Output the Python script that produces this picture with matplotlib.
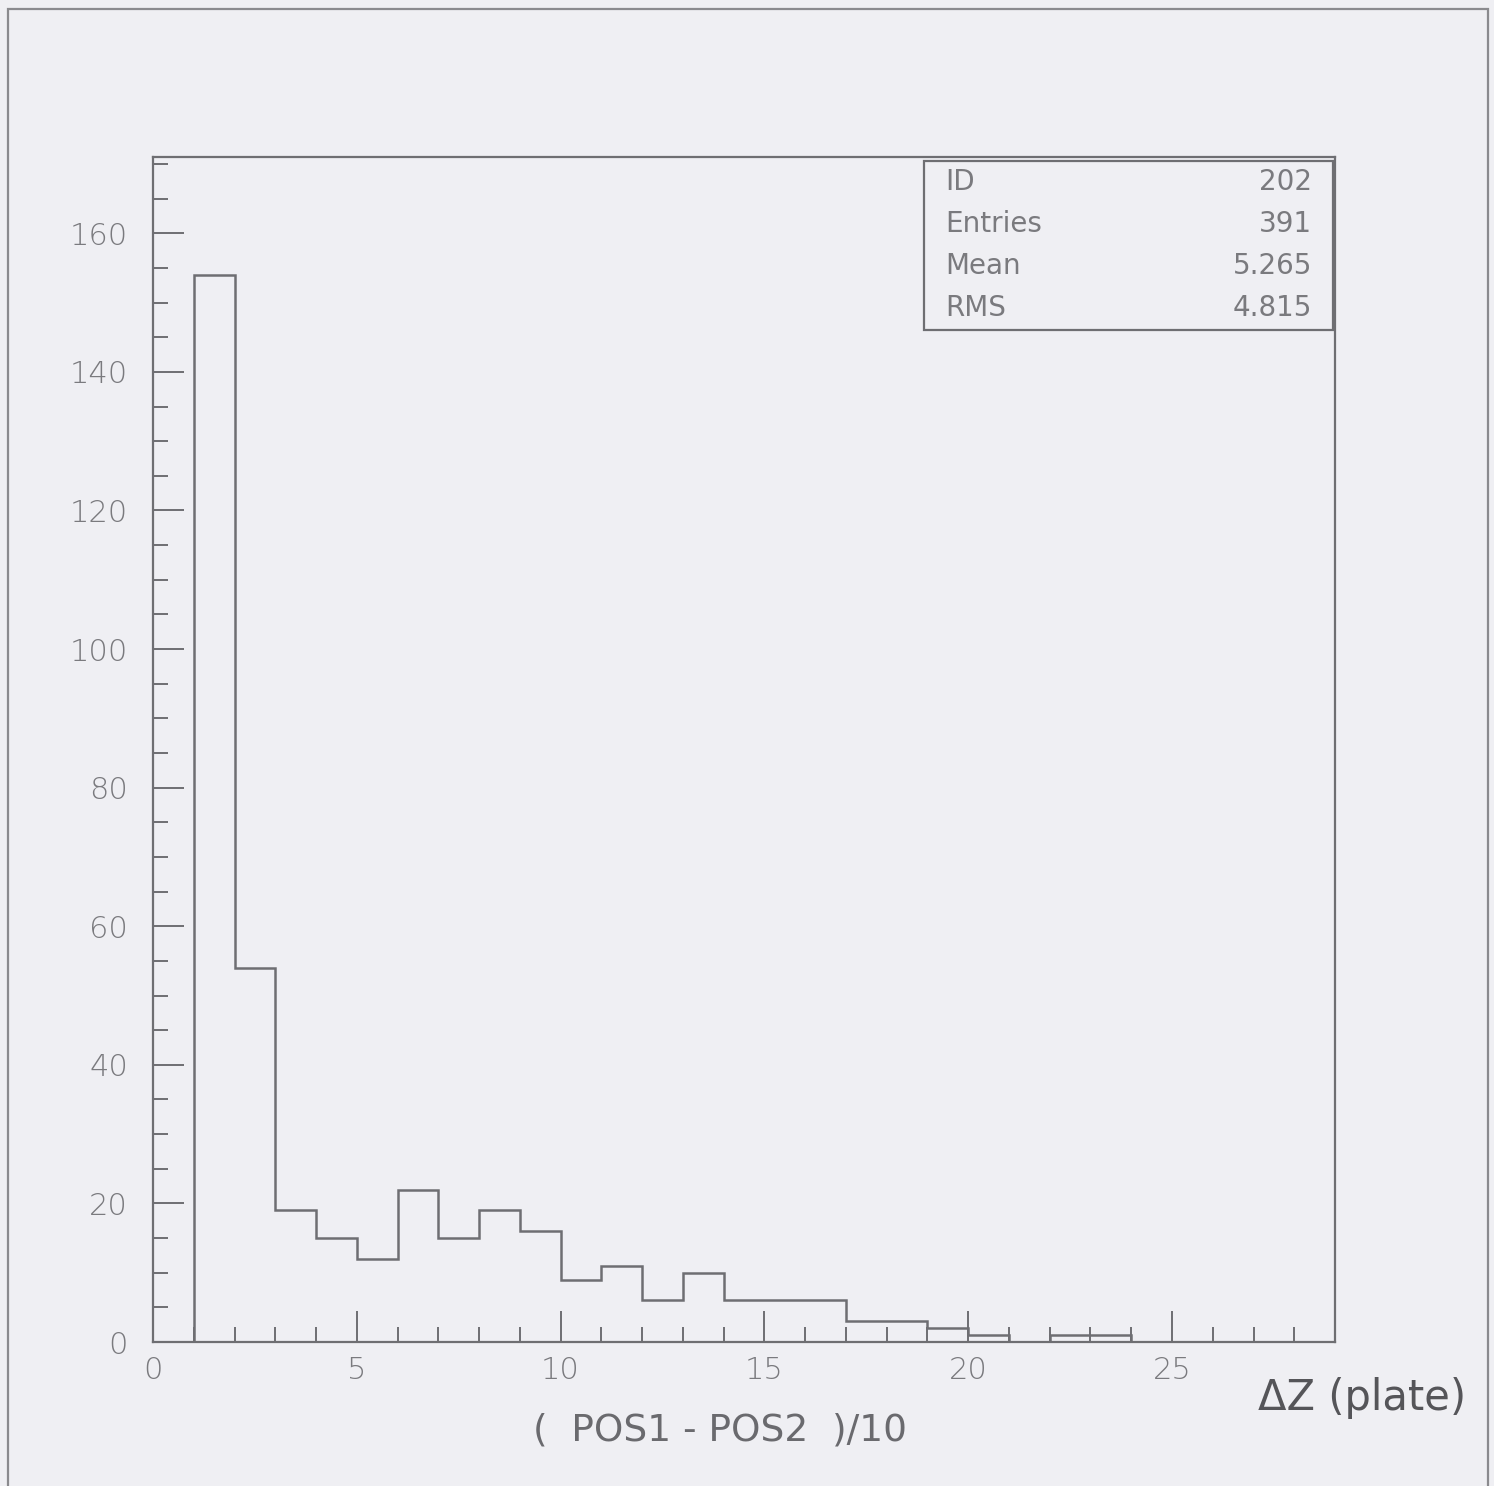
import numpy as np
import matplotlib.pyplot as plt
from matplotlib.ticker import MultipleLocator
from matplotlib.patches import Rectangle

# histogram 202 : (pos1-pos2)/10, unit bins from 1 to 24
edges = np.arange(1, 25)
counts = [154, 54, 19, 15, 12, 22, 15, 19, 16, 9, 11, 6, 10,
          6, 6, 6, 3, 3, 2, 1, 0, 1, 1]

stat_names = ['ID', 'Entries', 'Mean', 'RMS']
stat_values = ['202', '391', '5.265', '4.815']

bg = '#efeff3'
ink = '#6e6e72'

fig = plt.figure(figsize=(14.94, 14.86), dpi=100, facecolor=bg)

# page frame of the scan
fig.add_artist(Rectangle((8 / 1494, -0.05), 1480 / 1494, 1.05 - 9 / 1486,
                         transform=fig.transFigure, fill=False,
                         edgecolor='#8a8a8e', lw=1.6))

ax = fig.add_axes([0.1024, 0.0969, 0.7912, 0.7974])
ax.set_facecolor(bg)
ax.stairs(counts, edges, color=ink, lw=1.8)

ax.set_xlim(0, 29)
ax.set_ylim(0, 171)
ax.xaxis.set_major_locator(MultipleLocator(5))
ax.xaxis.set_minor_locator(MultipleLocator(1))
ax.yaxis.set_major_locator(MultipleLocator(20))
ax.yaxis.set_minor_locator(MultipleLocator(5))
ax.tick_params(which='both', direction='in', color=ink, width=1.4,
               top=False, right=False)
ax.tick_params(which='major', length=22, labelsize=22, labelcolor='#7a7a7e')
ax.tick_params(axis='x', which='major', pad=10)
ax.tick_params(axis='y', which='major', pad=18)
ax.tick_params(which='minor', length=11)
for s in ax.spines.values():
    s.set_color(ink)
    s.set_linewidth(1.6)

for lab in ax.get_xticklabels() + ax.get_yticklabels():
    lab.set_fontweight('light')

# stats box
box_l, box_r, box_b, box_t = 0.652, 0.9985, 0.854, 0.997
ax.add_patch(Rectangle((box_l, box_b), box_r - box_l, box_t - box_b,
                       transform=ax.transAxes, fill=False, edgecolor=ink, lw=1.6))
for i, (n, v) in enumerate(zip(stat_names, stat_values)):
    yy = box_t - 0.018 - i * 0.0355
    ax.text(box_l + 0.018, yy, n, transform=ax.transAxes, fontsize=20,
            color='#7a7a7e', va='center', ha='left')
    ax.text(box_r - 0.018, yy, v, transform=ax.transAxes, fontsize=20,
            color='#7a7a7e', va='center', ha='right')

# hand-written labels on the print
fig.text(720 / 1494, 1 - 1430 / 1486, '(  POS1 - POS2  )/10', fontsize=27,
         color='#6a6a6e', ha='center', va='center')
fig.text(1362 / 1494, 1 - 1398 / 1486, '\u0394Z (plate)', fontsize=30,
         color='#555559', ha='center', va='center')

plt.savefig('out.png', dpi=100, facecolor=bg)
